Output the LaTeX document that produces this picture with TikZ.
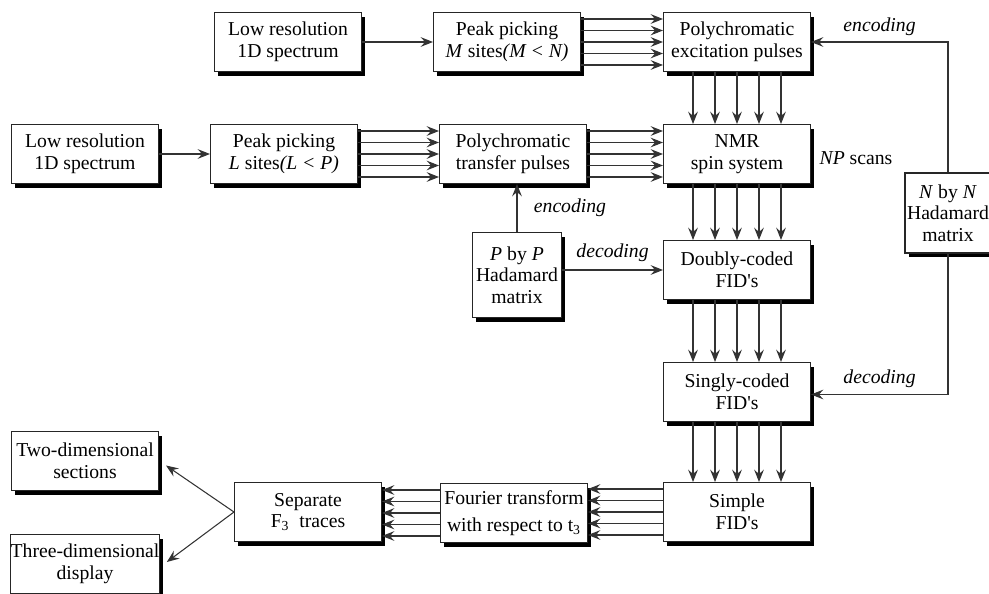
\documentclass[tikz,border=0pt]{standalone}
\usepackage{fontspec}
\setmainfont{LiberationSerif}[Extension=.ttf, UprightFont=*-Regular, ItalicFont=*-Italic, BoldFont=*-Bold, BoldItalicFont=*-BoldItalic]
\usetikzlibrary{arrows.meta,shadows}

\begin{document}
\begin{tikzpicture}[x=0.02cm, y=-0.02cm,
    font=\fontsize{11.2}{12.3}\selectfont,
    box/.style={rectangle, draw=black!85, fill=white, line width=0.6pt, align=center,
        inner sep=0pt, minimum width=2.94cm, minimum height=1.18cm,
        drop shadow={shadow xshift=0.07cm, shadow yshift=-0.09cm, fill=black, opacity=1}},
    flow/.style={line width=0.6pt, draw=black!80, -{Stealth[length=7pt, width=5.5pt, inset=2.5pt]}},
    tag/.style={font=\fontsize{11.2}{12.3}\selectfont\itshape}]

\useasboundingbox (0,0) rectangle (989,594);

% Excitation side
\node[box] (lr1) at (288,42) {Low resolution\\1D spectrum};
\node[box] (pp1) at (507,42) {Peak picking\\\textit{M} sites\textit{(M < N)}};
\node[box] (pex) at (737,42) {Polychromatic\\excitation pulses};
% Transfer side
\node[box] (lr2) at (85,154) {Low resolution\\1D spectrum};
\node[box] (pp2) at (284,154) {Peak picking\\\textit{L} sites\textit{(L < P)}};
\node[box] (ptr) at (513,154) {Polychromatic\\transfer pulses};
\node[box] (nmr) at (737,154) {NMR\\spin system};
\node (scans) at (856,158) {\textit{NP} scans};
% Hadamard matrices
\node[box, minimum width=1.78cm, minimum height=1.7cm] (phad) at (517,275) {\textit{P} by \textit{P}\\Hadamard\\matrix};
\node[box, minimum width=1.72cm, minimum height=1.6cm] (nhad) at (948,213) {\textit{N} by \textit{N}\\Hadamard\\matrix};
% Decoding and display
\node[box] (dbl) at (737,270) {Doubly-coded\\FID\textquotesingle s};
\node[box] (sgl) at (737,392) {Singly-coded\\FID\textquotesingle s};
\node[box] (smp) at (737,512) {Simple\\FID\textquotesingle s};
\node[box] (fou) at (514,513) {Fourier transform\\[3pt]with respect to t\textsubscript{3}};
\node[box] (sep) at (308,512) {Separate\\F\textsubscript{3}\ \ traces};
\node[box] (two) at (85,461) {Two-dimensional\\sections};
\node[box] (thr) at (85,564) {Three-dimensional\\display};

% Channels
\draw[flow] (lr1) -- (pp1);
\draw[flow] (lr2) -- (pp2);
\foreach \d in {-2,...,2} {
  \draw[flow] ([yshift=\d*0.23cm]pp1.east) -- ([yshift=\d*0.23cm]pp1.east -| pex.west);
  \draw[flow] ([yshift=\d*0.23cm]pp2.east) -- ([yshift=\d*0.23cm]pp2.east -| ptr.west);
  \draw[flow] ([yshift=\d*0.23cm]ptr.east) -- ([yshift=\d*0.23cm]ptr.east -| nmr.west);
  \draw[flow] ([xshift=\d*0.44cm]pex.south) -- ([xshift=\d*0.44cm]pex.south |- nmr.north);
  \draw[flow] ([xshift=\d*0.44cm]nmr.south) -- ([xshift=\d*0.44cm]nmr.south |- dbl.north);
  \draw[flow] ([xshift=\d*0.44cm]dbl.south) -- ([xshift=\d*0.44cm]dbl.south |- sgl.north);
  \draw[flow] ([xshift=\d*0.44cm]sgl.south) -- ([xshift=\d*0.44cm]sgl.south |- smp.north);
  \draw[flow] ([yshift=\d*0.23cm]smp.west) -- ([yshift=\d*0.23cm]smp.west -| fou.east);
  \draw[flow] ([yshift=\d*0.23cm]fou.west) -- ([yshift=\d*0.23cm]fou.west -| sep.east);
}

% Coding paths
\draw[flow] (phad.north) -- (phad.north |- ptr.south) node[midway, right=6pt, tag] {encoding};
\draw[flow] (dbl.west -| phad.east) -- (dbl.west) node[midway, above=1pt, tag] {decoding};
\draw[flow] (nhad.north) |- (pex.east) node[pos=0.75, above, tag] {encoding};
\draw[flow] (nhad.south) |- ([yshift=-0.05cm]sgl.east) node[pos=0.75, above, tag] {decoding};

% Outputs
\draw[flow] (sep.west) -- ([xshift=0.14cm, yshift=-0.09cm]two.east);
\draw[flow] (sep.west) -- ([xshift=0.14cm, yshift=0.04cm]thr.east);

\end{tikzpicture}
\end{document}
